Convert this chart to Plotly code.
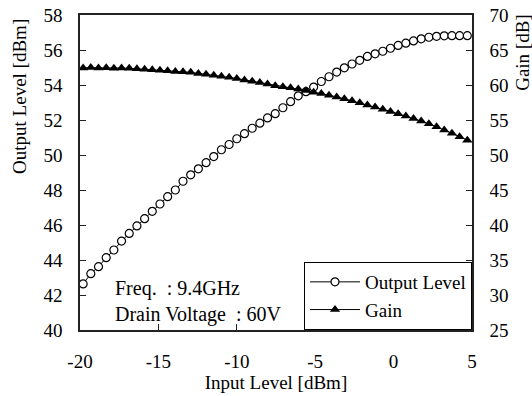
import plotly.graph_objects as go

# Input level [dBm] (measurement points)
input_level = [-19.8, -19.31, -18.82, -18.33, -17.84, -17.35, -16.86, -16.37, -15.88, -15.39,
               -14.9, -14.41, -13.92, -13.43, -12.94, -12.45, -11.96, -11.47, -10.98, -10.49,
               -10.0, -9.51, -9.02, -8.53, -8.04, -7.55, -7.06, -6.57, -6.08, -5.59,
               -5.1, -4.61, -4.12, -3.63, -3.14, -2.65, -2.16, -1.67, -1.18, -0.69,
               -0.2, 0.29, 0.78, 1.27, 1.76, 2.25, 2.74, 3.23, 3.72, 4.21, 4.7]

# Output level [dBm]
output_level = [42.63, 43.22, 43.62, 44.13, 44.57, 45.08, 45.52, 45.95, 46.36, 46.78,
                47.2, 47.62, 48.0, 48.5, 48.87, 49.21, 49.56, 49.91, 50.3, 50.6,
                50.93, 51.22, 51.53, 51.82, 52.12, 52.36, 52.7, 53.05, 53.38, 53.62,
                53.88, 54.2, 54.47, 54.74, 54.98, 55.2, 55.41, 55.63, 55.78, 55.93,
                56.1, 56.26, 56.39, 56.52, 56.64, 56.73, 56.78, 56.81, 56.82, 56.82, 56.82]

# Gain [dB]
gain = [62.43, 62.5, 62.44, 62.46, 62.41, 62.43, 62.38, 62.32, 62.24, 62.17,
        62.1, 62.03, 61.92, 61.9, 61.81, 61.66, 61.52, 61.38, 61.26, 61.09,
        60.93, 60.73, 60.55, 60.35, 60.16, 59.91, 59.76, 59.6, 59.44, 59.2,
        58.98, 58.78, 58.55, 58.3, 58.02, 57.74, 57.45, 57.16, 56.84, 56.52,
        56.22, 55.9, 55.56, 55.2, 54.84, 54.45, 54.02, 53.57, 53.1, 52.61, 52.12]

x_ticks = [-20, -15, -10, -5, 0, 5]
x_tick_text = ["-20", "-15", "-10", "-5", "0", "5"]
y_ticks = [40, 42, 44, 46, 48, 50, 52, 54, 56, 58]
y2_ticks = [25, 30, 35, 40, 45, 50, 55, 60, 65, 70]

FONT = "Liberation Serif"
AX = "#222"
FS = 19

fig = go.Figure()
fig.add_trace(go.Scatter(
    x=input_level, y=output_level, name="Output Level", mode="lines+markers",
    line=dict(color="black", width=1),
    marker=dict(symbol="circle", size=8, color="white", line=dict(color="black", width=1.2)),
    yaxis="y"))
fig.add_trace(go.Scatter(
    x=input_level, y=gain, name="Gain", mode="lines+markers",
    line=dict(color="black", width=1),
    marker=dict(symbol="triangle-up", size=9, color="black", line=dict(color="black", width=0)),
    yaxis="y2"))

fig.update_layout(
    width=532, height=396,
    margin=dict(l=80, r=60, t=15, b=66, autoexpand=False),
    paper_bgcolor="white", plot_bgcolor="white",
    font=dict(family=FONT, size=FS, color="black"),
    showlegend=True,
    legend=dict(x=1, y=0, xanchor="right", yanchor="bottom",
                bordercolor="black", borderwidth=1, bgcolor="white",
                font=dict(family=FONT, size=FS), tracegroupgap=0,
                itemwidth=50),
    xaxis=dict(range=[-20, 5], tickvals=x_ticks, ticktext=x_tick_text, automargin=False,
               ticks="inside", ticklen=6, tickcolor=AX, showgrid=False, zeroline=False,
               showline=True, linecolor=AX, linewidth=1.5, mirror=True,
               ticklabelstandoff=13, tickfont=dict(size=FS),
               title=dict(text="Input Level [dBm]", font=dict(size=FS), standoff=4)),
    yaxis=dict(range=[40, 58], tickvals=y_ticks, automargin=False,
               ticks="inside", ticklen=6, tickcolor=AX, showgrid=False, zeroline=False,
               showline=True, linecolor=AX, linewidth=1.5,
               ticklabelstandoff=12, tickfont=dict(size=FS)),
    yaxis2=dict(range=[25, 70], tickvals=y2_ticks, overlaying="y", side="right", automargin=False,
                ticks="inside", ticklen=6, tickcolor=AX, showgrid=False, zeroline=False,
                showline=True, linecolor=AX, linewidth=1.5,
                ticklabelstandoff=12, tickfont=dict(size=FS)),
    annotations=[
        dict(text="Freq.\u00a0\u00a0: 9.4GHz<br>Drain Voltage\u00a0\u00a0: 60V",
             xref="paper", yref="paper", x=0.084, y=0.005, xanchor="left", yanchor="bottom",
             align="left", showarrow=False, font=dict(family=FONT, size=20)),
        dict(text="Output Level [dBm]", textangle=-90, xref="paper", yref="paper",
             x=-0.153, y=0.74, xanchor="center", yanchor="middle", showarrow=False,
             font=dict(family=FONT, size=FS)),
        dict(text="Gain [dB]", textangle=-90, xref="paper", yref="paper",
             x=1.13, y=0.883, xanchor="center", yanchor="middle", showarrow=False,
             font=dict(family=FONT, size=FS)),
    ],
)

fig.write_html("out.html", config={"displayModeBar": False},
               post_script="document.body.style.margin='0';document.body.style.padding='0';")
